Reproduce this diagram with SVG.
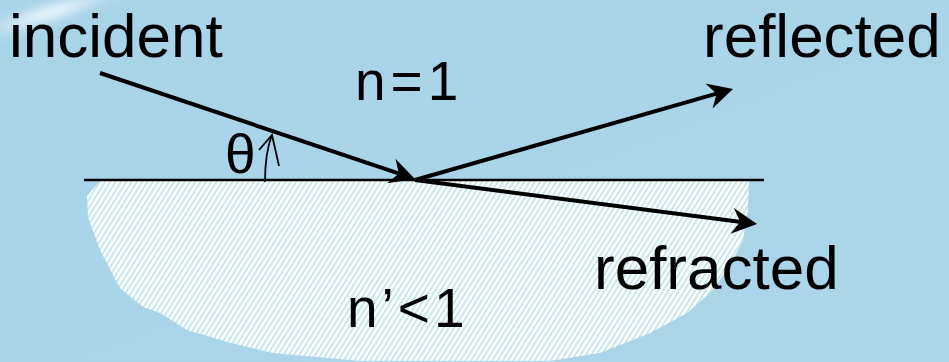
<svg xmlns="http://www.w3.org/2000/svg" width="949" height="362" viewBox="0 0 949 362">
  <defs>
    <linearGradient id="bg" x1="0" y1="0" x2="1" y2="1">
      <stop offset="0" stop-color="#A8D4E8"/>
      <stop offset="1" stop-color="#ABD6EA"/>
    </linearGradient>
    <linearGradient id="streak" x1="0" y1="1" x2="1" y2="0">
      <stop offset="0" stop-color="#FFFFFF" stop-opacity="0"/>
      <stop offset="0.5" stop-color="#FFFFFF" stop-opacity="0.8"/>
      <stop offset="1" stop-color="#FFFFFF" stop-opacity="0"/>
    </linearGradient>
    <filter id="soft" x="-50%" y="-50%" width="200%" height="200%">
      <feGaussianBlur stdDeviation="5"/>
    </filter>
    <pattern id="hatch" width="4.5" height="10" patternUnits="userSpaceOnUse" patternTransform="rotate(32)">
      <rect width="4.5" height="10" fill="#FFFFFF"/>
      <rect width="1.9" height="10" fill="#C6E6EA"/>
    </pattern>
    <marker id="head" markerUnits="userSpaceOnUse" viewBox="-20 -15 30 30" markerWidth="30" markerHeight="30" refX="0" refY="0" orient="auto" overflow="visible">
      <path d="M8,0 L-17,-13 L-9,0 L-17,13 Z" fill="#000"/>
    </marker>
  </defs>
  <style>
    .lbl { font-family: "Liberation Sans", Arial, sans-serif; fill: #000; }
    .big { font-size: 62px; }
    .mid { font-size: 55px; }
    .ray { stroke: #000; stroke-width: 4; fill: none; marker-end: url(#head); }
    .surf { stroke: #000; stroke-width: 2.5; fill: none; }
  </style>

  <rect width="949" height="362" fill="url(#bg)"/>
  <path d="M-10,42 L-10,24 L100,-10 L135,-10 Z" fill="url(#streak)" filter="url(#soft)"/>

  <g id="medium">
    <path d="M100,181 L749,181 L748,210 L743,240 L733,260 L713,290 L687,313 L650,333 L600,353 L550,361 L360,361 L327,358 L273,353 L227,342 L187,330 L160,313 L143,307 L120,288 L100,250 L88,217 L87,196 Z" fill="url(#hatch)"/>
  </g>

  <g id="surface">
    <line class="surf" x1="84" y1="180" x2="764" y2="180"/>
  </g>

  <g id="connectors">
    <line id="incident-ray" class="ray" x1="100" y1="73" x2="407.4" y2="176.4"/>
    <line id="reflected-ray" class="ray" x1="415" y1="180" x2="725.3" y2="91.2"/>
    <line id="refracted-ray" class="ray" x1="415" y1="180" x2="749.1" y2="223"/>
    <g id="theta-arrow" stroke="#000" stroke-width="1.8" fill="none">
      <path d="M265,182 C265,165 266,150 272,135"/>
      <path d="M259,150 L272,135 L279,166"/>
    </g>
  </g>

  <g id="label-incident"><text class="lbl big" x="9" y="57">incident</text></g>
  <g id="label-reflected"><text class="lbl big" x="703" y="57">reflected</text></g>
  <g id="label-n1"><text class="lbl mid" x="355" y="100" letter-spacing="5">n=1</text></g>
  <g id="label-theta"><text class="lbl mid" x="225" y="173">θ</text></g>
  <g id="label-refracted"><text class="lbl big" x="594" y="289">refracted</text></g>
  <g id="label-n2"><text class="lbl mid" x="347" y="327" letter-spacing="4">n’&lt;1</text></g>
</svg>
